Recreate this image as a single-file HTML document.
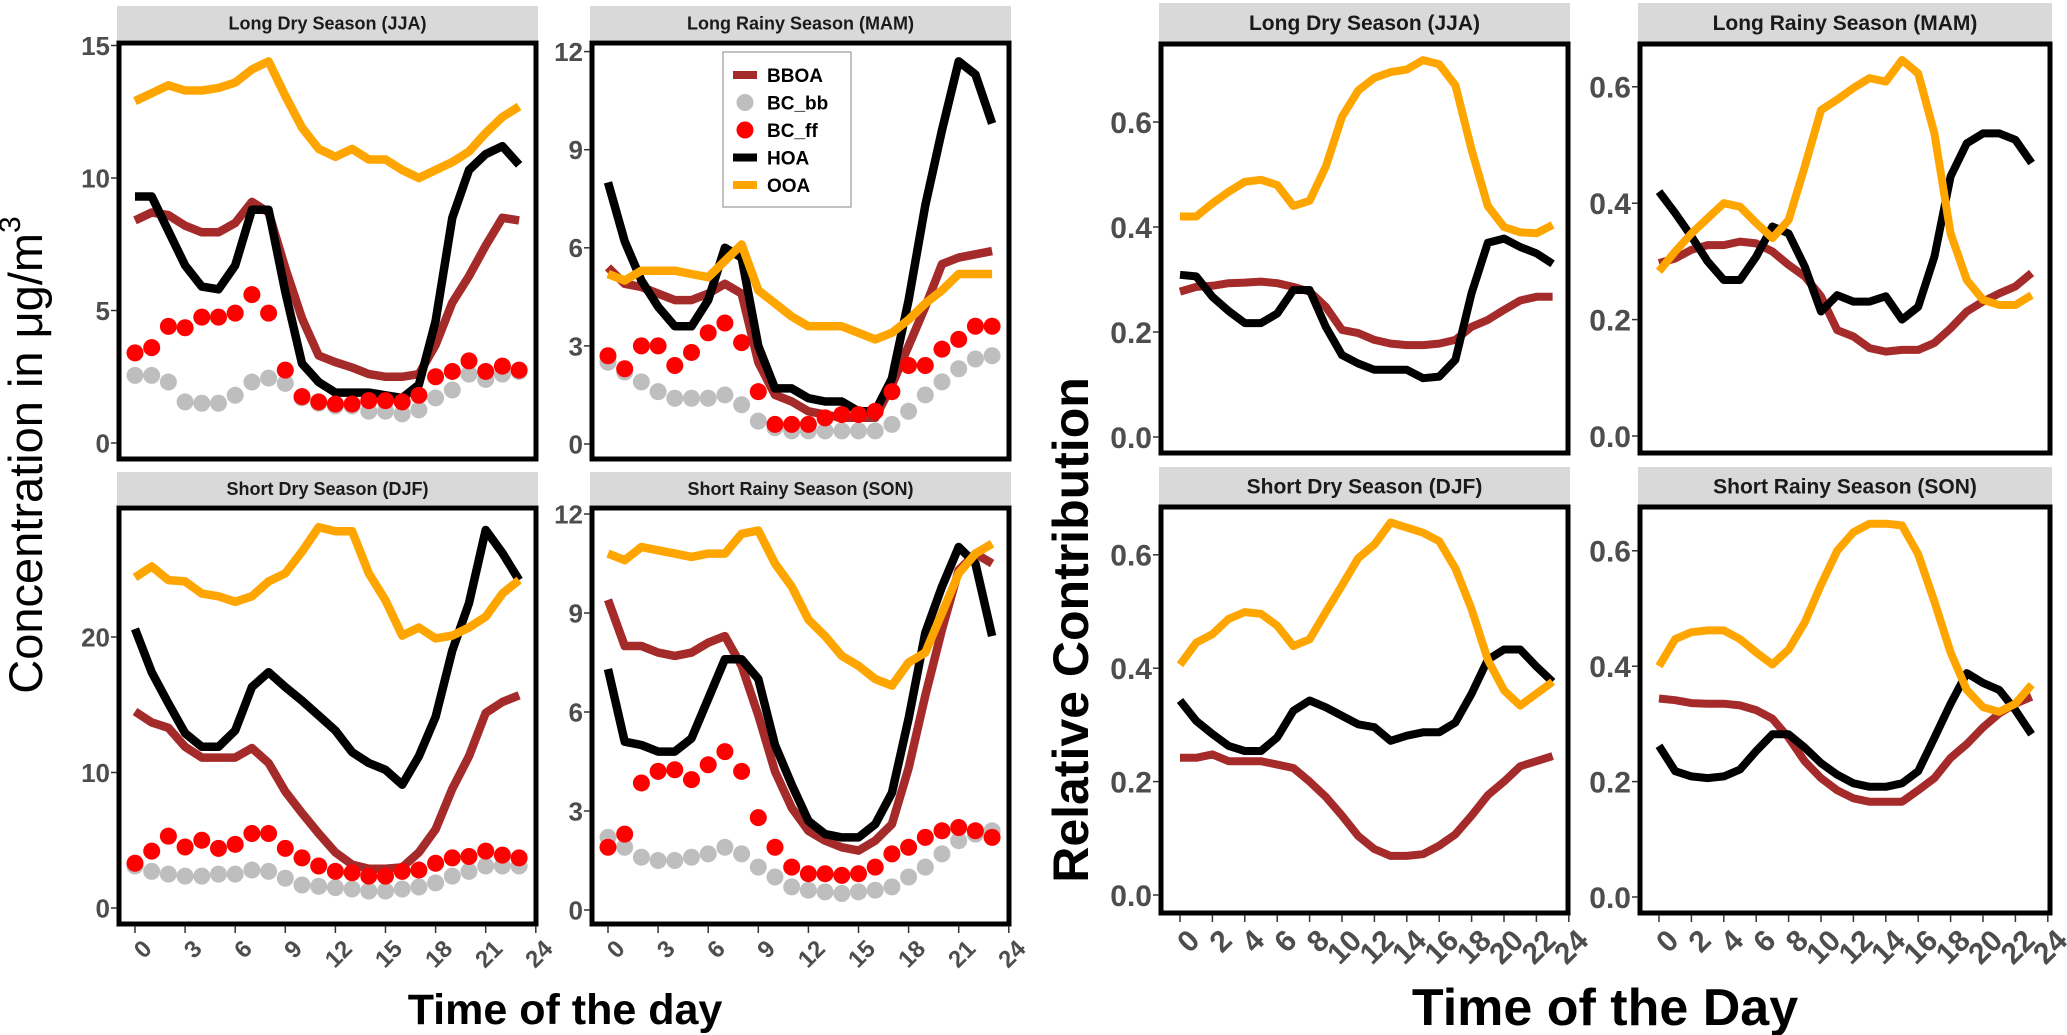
<!DOCTYPE html>
<html><head><meta charset="utf-8"><title>Diurnal profiles</title>
<style>html,body{margin:0;padding:0;background:#fff}svg{display:block}text{font-family:"Liberation Sans",Arial,sans-serif}</style>
</head><body>
<svg id="chart" xmlns="http://www.w3.org/2000/svg" width="2067" height="1035" viewBox="0 0 2067 1035">
<rect x="0" y="0" width="2067" height="1035" fill="#fff"/>
<text transform="translate(42,455) rotate(-90)" text-anchor="middle" font-size="47" fill="#000">Concentration in μg/m<tspan font-size="30" dy="-22">3</tspan></text>
<text x="565" y="1024" text-anchor="middle" font-size="43" font-weight="bold" fill="#000">Time of the day</text>
<text transform="translate(1088,630) rotate(-90)" text-anchor="middle" font-size="50" font-weight="bold" fill="#000">Relative Contribution</text>
<text x="1605" y="1025" text-anchor="middle" font-size="52" font-weight="bold" fill="#000">Time of the Day</text>
<g id="panels"></g>
</svg>
<script>
const hours = [0,1,2,3,4,5,6,7,8,9,10,11,12,13,14,15,16,17,18,19,20,21,22,23];
const seriesNames = ["BBOA","BC_bb","BC_ff","HOA","OOA"];
const jjaBBOA = [8.4,8.7,8.6,8.2,7.95,7.95,8.3,9.1,8.7,6.6,4.7,3.3,3.05,2.85,2.6,2.5,2.5,2.6,3.7,5.3,6.3,7.45,8.5,8.4];
const jjaBCbb = [2.55,2.55,2.3,1.55,1.5,1.5,1.8,2.3,2.45,2.25,1.7,1.5,1.4,1.4,1.2,1.2,1.1,1.25,1.7,2.0,2.6,2.4,2.6,2.7];
const jjaBCff = [3.4,3.6,4.4,4.35,4.75,4.75,4.9,5.6,4.9,2.75,1.75,1.55,1.47,1.47,1.6,1.6,1.55,1.8,2.5,2.7,3.1,2.7,2.9,2.75];
const jjaHOA = [9.3,9.3,8.0,6.7,5.9,5.8,6.7,8.8,8.8,5.7,3.0,2.3,1.9,1.9,1.9,1.8,1.7,2.2,4.6,8.5,10.3,10.9,11.2,10.5];
const jjaOOA = [12.9,13.2,13.5,13.3,13.3,13.4,13.6,14.1,14.4,13.1,11.9,11.1,10.8,11.1,10.7,10.7,10.3,10.0,10.3,10.6,11.0,11.7,12.3,12.7];
const mamBBOA = [5.4,4.9,4.8,4.6,4.4,4.4,4.6,4.9,4.6,2.5,1.5,1.3,1.0,0.9,0.8,0.8,0.8,1.8,3.0,4.2,5.5,5.7,5.8,5.9];
const mamBCbb = [2.5,2.2,1.9,1.6,1.4,1.4,1.4,1.5,1.2,0.7,0.5,0.4,0.4,0.4,0.4,0.4,0.4,0.6,1.0,1.5,1.9,2.3,2.6,2.7];
const mamBCff = [2.7,2.3,3.0,3.0,2.4,2.8,3.4,3.7,3.1,1.6,0.6,0.6,0.6,0.8,0.9,0.9,1.0,1.6,2.4,2.4,2.9,3.2,3.6,3.6];
const mamHOA = [8.0,6.2,5.0,4.2,3.6,3.6,4.4,6.0,5.7,3.0,1.7,1.7,1.4,1.3,1.3,1.0,1.0,2.0,4.4,7.3,9.6,11.7,11.3,9.8];
const mamOOA = [5.2,5.0,5.3,5.3,5.3,5.2,5.1,5.6,6.1,4.7,4.3,3.9,3.6,3.6,3.6,3.4,3.2,3.4,3.8,4.3,4.7,5.2,5.2,5.2];
const djfBBOA = [14.5,13.7,13.3,11.9,11.1,11.1,11.1,11.8,10.7,8.6,7.0,5.5,4.1,3.2,2.9,2.9,3.0,4.1,5.8,8.8,11.2,14.4,15.2,15.7];
const djfBCbb = [3.1,2.7,2.5,2.35,2.35,2.5,2.5,2.8,2.7,2.2,1.7,1.6,1.5,1.4,1.25,1.25,1.4,1.55,1.85,2.35,2.7,3.1,3.1,3.1];
const djfBCff = [3.3,4.2,5.3,4.5,5.0,4.4,4.7,5.5,5.5,4.4,3.7,3.1,2.7,2.6,2.35,2.35,2.7,2.8,3.3,3.7,3.8,4.2,3.9,3.7];
const djfHOA = [20.6,17.4,15.1,12.9,11.9,11.9,13.1,16.3,17.4,16.3,15.3,14.2,13.1,11.5,10.7,10.2,9.1,11.2,14.1,19.0,22.5,27.9,26.2,24.2];
const djfOOA = [24.4,25.2,24.2,24.1,23.2,23.0,22.6,23.0,24.1,24.7,26.3,28.1,27.8,27.8,24.7,22.7,20.1,20.7,19.9,20.1,20.7,21.5,23.2,24.2];
const sonBBOA = [9.4,8.0,8.0,7.8,7.7,7.8,8.1,8.3,7.4,5.9,4.2,3.1,2.4,2.1,1.9,1.8,2.1,2.6,4.3,6.5,8.5,10.3,10.8,10.5];
const sonBCbb = [2.2,1.9,1.6,1.5,1.5,1.6,1.7,1.9,1.7,1.3,1.0,0.7,0.6,0.55,0.5,0.55,0.6,0.7,1.0,1.3,1.7,2.1,2.3,2.4];
const sonBCff = [1.9,2.3,3.85,4.2,4.25,3.95,4.4,4.8,4.2,2.8,1.9,1.3,1.1,1.1,1.05,1.1,1.3,1.7,1.9,2.2,2.4,2.5,2.4,2.2];
const sonHOA = [7.3,5.1,5.0,4.8,4.8,5.2,6.4,7.6,7.6,7.0,5.0,3.8,2.7,2.3,2.2,2.2,2.6,3.55,5.8,8.4,9.8,11.0,10.5,8.3];
const sonOOA = [10.8,10.6,11.0,10.9,10.8,10.7,10.8,10.8,11.4,11.5,10.5,9.8,8.8,8.3,7.7,7.4,7.0,6.8,7.5,7.8,9.0,10.2,10.8,11.1];
const relJjaBBOA = [0.277,0.286,0.288,0.293,0.294,0.296,0.293,0.286,0.277,0.248,0.204,0.198,0.185,0.178,0.175,0.175,0.178,0.185,0.21,0.223,0.242,0.26,0.267,0.267];
const relJjaHOA = [0.309,0.306,0.267,0.24,0.217,0.217,0.235,0.28,0.28,0.21,0.156,0.14,0.128,0.128,0.128,0.112,0.115,0.147,0.274,0.37,0.378,0.362,0.35,0.33];
const relJjaOOA = [0.42,0.42,0.445,0.467,0.486,0.49,0.48,0.44,0.45,0.515,0.61,0.66,0.684,0.695,0.70,0.718,0.71,0.67,0.547,0.44,0.40,0.39,0.388,0.404];
const relMamBBOA = [0.297,0.305,0.32,0.328,0.328,0.334,0.331,0.317,0.294,0.274,0.24,0.182,0.171,0.151,0.145,0.148,0.148,0.16,0.185,0.214,0.231,0.245,0.257,0.28];
const relMamHOA = [0.42,0.383,0.343,0.30,0.268,0.268,0.308,0.36,0.348,0.291,0.214,0.242,0.231,0.231,0.24,0.2,0.222,0.308,0.446,0.503,0.52,0.52,0.509,0.469];
const relMamOOA = [0.283,0.317,0.348,0.374,0.40,0.394,0.366,0.34,0.371,0.463,0.56,0.578,0.598,0.615,0.609,0.646,0.623,0.52,0.348,0.268,0.234,0.225,0.225,0.242];
const relDjfBBOA = [0.242,0.242,0.248,0.236,0.236,0.236,0.23,0.224,0.2,0.173,0.14,0.104,0.081,0.069,0.069,0.072,0.087,0.107,0.14,0.176,0.2,0.227,0.236,0.245];
const relDjfHOA = [0.343,0.307,0.284,0.263,0.254,0.254,0.278,0.325,0.343,0.331,0.316,0.301,0.296,0.272,0.281,0.287,0.287,0.304,0.355,0.415,0.433,0.433,0.403,0.376];
const relDjfOOA = [0.406,0.445,0.46,0.487,0.499,0.496,0.475,0.439,0.451,0.499,0.546,0.594,0.618,0.657,0.648,0.639,0.624,0.576,0.504,0.415,0.361,0.334,0.355,0.376];
const relSonBBOA = [0.344,0.341,0.336,0.335,0.335,0.332,0.324,0.309,0.276,0.235,0.206,0.185,0.171,0.165,0.165,0.165,0.185,0.206,0.241,0.265,0.294,0.318,0.335,0.347];
const relSonHOA = [0.262,0.218,0.209,0.206,0.209,0.221,0.253,0.282,0.282,0.259,0.232,0.212,0.197,0.191,0.191,0.197,0.218,0.276,0.335,0.388,0.371,0.359,0.324,0.282];
const relSonOOA = [0.40,0.447,0.459,0.462,0.462,0.447,0.424,0.403,0.429,0.476,0.541,0.60,0.632,0.647,0.647,0.644,0.594,0.512,0.424,0.359,0.329,0.321,0.335,0.368];
const leftXTicks = [0,3,6,9,12,15,18,21,24];
const rightXTicks = [0,2,4,6,8,10,12,14,16,18,20,22,24];
const noXTicks = [];
const jjaYTicks = [0,5,10,15];
const mamYTicks = [0,3,6,9,12];
const djfYTicks = [0,10,20];
const sonYTicks = [0,3,6,9,12];
const relYTicks = [0,0.2,0.4,0.6];

const NS = "http://www.w3.org/2000/svg";
const root = document.getElementById("panels");
const COL = {BBOA:"#a52a2a", BC_bb:"#bebebe", BC_ff:"#ff0000", HOA:"#000000", OOA:"#ffa500"};
function mk(tag, attrs, parent){const e=document.createElementNS(NS,tag);for(const k in attrs)e.setAttribute(k,attrs[k]);(parent||root).appendChild(e);return e;}

function panel(p){
  const g = mk("g",{});
  
  
  const sx = h => p.x0 + p.x0off + h * p.hstep;
  const sy = v => p.y0v - v * p.ypx;
  const strip = mk("rect",{x:p.bx1-2,y:p.sy1,width:p.bx2-p.bx1+4,height:p.sy2-p.sy1,fill:"#d9d9d9"},g);
  
  
  const st = mk("text",{x:(p.bx1+p.bx2)/2,y:(p.sy1+p.sy2)/2+p.sfs*0.36,"text-anchor":"middle","font-size":p.sfs,"font-weight":"bold",fill:"#1a1a1a"},g);
  st.textContent = p.title;
  
  
  mk("rect",{x:p.bx1,y:p.by1,width:p.bx2-p.bx1,height:p.by2-p.by1,fill:"#fff"},g);
  const lines = [["BBOA",p.bboa],["HOA",p.hoa],["OOA",p.ooa]];
  lines.forEach(([nm,arr])=>{
    const d = arr.map((v,i)=>(i?"L":"M")+sx(hours[i]).toFixed(1)+","+sy(v).toFixed(1)).join("");
    const pl = mk("path",{d:d,fill:"none",stroke:COL[nm],"stroke-width":p.lw,"stroke-linejoin":"round","stroke-linecap":"butt"},g);
    
    
  });
  [["BC_bb",p.bcbb],["BC_ff",p.bcff]].forEach(([nm,arr])=>{
    if(!arr) return;
    arr.forEach((v,i)=>{
      const c = mk("circle",{cx:sx(hours[i]),cy:sy(v),r:8.5,fill:COL[nm]},g);
      
      
    });
  });
  const border = mk("rect",{x:p.bx1,y:p.by1,width:p.bx2-p.bx1,height:p.by2-p.by1,fill:"none",stroke:"#000","stroke-width":5},g);
  
  
  p.yticks.forEach(v=>{
    const y = sy(v);
    mk("line",{x1:p.bx1-8,x2:p.bx1-2,y1:y,y2:y,stroke:"#333","stroke-width":1.5},g);
    const t = mk("text",{x:p.bx1-9,y:y+p.tfs*0.36,"text-anchor":"end","font-size":p.tfs,"font-weight":"bold",fill:"#4d4d4d"},g);
    t.textContent = p.yfmt(v);
    
    
  });
  p.xticks.forEach(h=>{
    const x = sx(h);
    mk("line",{x1:x,x2:x,y1:p.by2+2,y2:p.by2+9,stroke:"#333","stroke-width":1.5},g);
    const t = mk("text",{transform:"translate("+(x+6)+","+(p.by2+14)+") rotate(-45)","text-anchor":"end",dy:"0.72em","font-size":p.xfs,"font-weight":"bold",fill:"#4d4d4d"},g);
    t.textContent = String(h);
    
    
  });
}
const intFmt = v=>String(v), relFmt = v=>v.toFixed(1);
const L = {x0off:16, hstep:16.7, lw:8.5, sfs:18, tfs:26, xfs:24, xticks:leftXTicks, yfmt:intFmt};
const R = {x0off:19, hstep:16.2, lw:8, sfs:21, tfs:30, xfs:30, xticks:rightXTicks, yfmt:relFmt};
panel(Object.assign({},L,{name:"panel-jja-conc",title:"Long Dry Season (JJA)",x0:119,bx1:119,bx2:536,sy1:6,sy2:40,by1:43,by2:459,y0v:443,ypx:26.5,yticks:jjaYTicks,xticks:noXTicks,bboa:jjaBBOA,hoa:jjaHOA,ooa:jjaOOA,bcbb:jjaBCbb,bcff:jjaBCff}));
panel(Object.assign({},L,{name:"panel-mam-conc",title:"Long Rainy Season (MAM)",x0:592,bx1:592,bx2:1009,sy1:6,sy2:40,by1:43,by2:459,y0v:444,ypx:32.7,yticks:mamYTicks,xticks:noXTicks,bboa:mamBBOA,hoa:mamHOA,ooa:mamOOA,bcbb:mamBCbb,bcff:mamBCff}));
panel(Object.assign({},L,{name:"panel-djf-conc",title:"Short Dry Season (DJF)",x0:119,bx1:119,bx2:536,sy1:472,sy2:505,by1:508,by2:924,y0v:908,ypx:13.55,yticks:djfYTicks,bboa:djfBBOA,hoa:djfHOA,ooa:djfOOA,bcbb:djfBCbb,bcff:djfBCff}));
panel(Object.assign({},L,{name:"panel-son-conc",title:"Short Rainy Season (SON)",x0:592,bx1:592,bx2:1009,sy1:472,sy2:505,by1:508,by2:924,y0v:910,ypx:33.0,yticks:sonYTicks,bboa:sonBBOA,hoa:sonHOA,ooa:sonOOA,bcbb:sonBCbb,bcff:sonBCff}));
panel(Object.assign({},R,{name:"panel-jja-rel",title:"Long Dry Season (JJA)",x0:1161,bx1:1161,bx2:1568,sy1:3,sy2:42,by1:44,by2:453,y0v:437,ypx:525,yticks:relYTicks,xticks:noXTicks,bboa:relJjaBBOA,hoa:relJjaHOA,ooa:relJjaOOA}));
panel(Object.assign({},R,{name:"panel-mam-rel",title:"Long Rainy Season (MAM)",x0:1640,bx1:1640,bx2:2050,sy1:3,sy2:42,by1:44,by2:453,y0v:436,ypx:582,yticks:relYTicks,xticks:noXTicks,bboa:relMamBBOA,hoa:relMamHOA,ooa:relMamOOA}));
panel(Object.assign({},R,{name:"panel-djf-rel",title:"Short Dry Season (DJF)",x0:1161,bx1:1161,bx2:1568,sy1:467,sy2:505,by1:507,by2:913,y0v:895,ypx:567,yticks:relYTicks,bboa:relDjfBBOA,hoa:relDjfHOA,ooa:relDjfOOA}));
panel(Object.assign({},R,{name:"panel-son-rel",title:"Short Rainy Season (SON)",x0:1640,bx1:1640,bx2:2050,sy1:467,sy2:505,by1:507,by2:913,y0v:897,ypx:577,yticks:relYTicks,bboa:relSonBBOA,hoa:relSonHOA,ooa:relSonOOA}));

const lg = mk("g",{});


mk("rect",{x:723,y:52,width:128,height:155,fill:"#fff",stroke:"#999","stroke-width":1.2},lg);
seriesNames.forEach((nm,i)=>{
  const y = 75 + i*27.5;
  let key;
  if(nm.startsWith("BC")) key = mk("circle",{cx:745,cy:y,r:8.5,fill:COL[nm]},lg);
  else key = mk("line",{x1:733,x2:757,y1:y,y2:y,stroke:COL[nm],"stroke-width":8},lg);
  
  
  const t = mk("text",{x:767,y:y+7,"font-size":19,"font-weight":"bold",fill:"#000"},lg);
  t.textContent = nm;
  
  
});
</script>
</body></html>
